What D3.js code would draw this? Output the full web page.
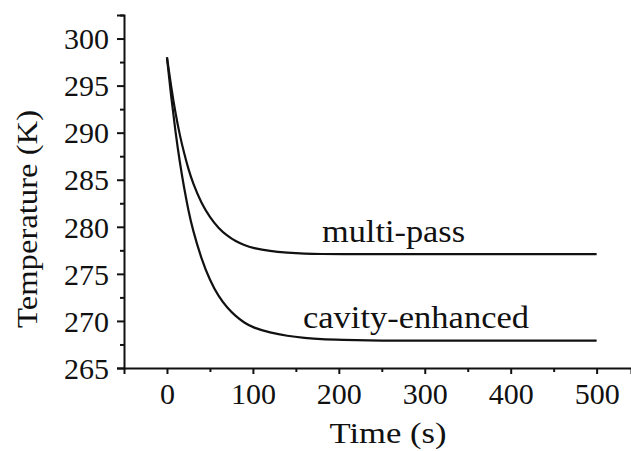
<!DOCTYPE html>
<html>
<head>
<meta charset="utf-8">
<script src="https://cdn.jsdelivr.net/npm/d3@7/dist/d3.min.js"></script>
<style>
  html, body { margin: 0; padding: 0; background: #fff; }
  svg { display: block; }
</style>
</head>
<body>
<svg id="chart" width="631" height="451" font-family="Liberation Serif, serif"></svg>
<script>
// ---- data ----
const times = [0, 5, 10, 15, 20, 25, 30, 40, 50, 60, 70, 80, 90, 100, 120, 140, 160, 180, 200, 250, 300, 400, 500];
const multiPass = [298, 294.8, 292.0, 289.7, 287.8, 286.1, 284.7, 282.5, 281.0, 279.85, 279.05, 278.45, 278.05, 277.75, 277.4, 277.25, 277.15, 277.1, 277.1, 277.1, 277.1, 277.1, 277.1];
const cavityEnhanced = [298, 293.7, 290.0, 286.8, 284.1, 281.7, 279.7, 276.6, 274.3, 272.6, 271.4, 270.5, 269.8, 269.3, 268.75, 268.4, 268.2, 268.05, 268.0, 267.9, 267.9, 267.9, 267.9];
const xTicks = [0, 100, 200, 300, 400, 500];
const xMinorTicks = [50, 150, 250, 350, 450];
const yTicks = [265, 270, 275, 280, 285, 290, 295, 300];
const yMinorTicks = [267.5, 272.5, 277.5, 282.5, 287.5, 292.5, 297.5, 302.5];
const seriesLabels = ["multi-pass", "cavity-enhanced"];
const xTitle = "Time (s)";
const yTitle = "Temperature (K)";

const FONT = "Liberation Serif, serif";
const svg = d3.select("#chart");
const x = d3.scaleLinear().domain([-50, 540]).range([124, 631]);
const y = d3.scaleLinear().domain([265, 302.5]).range([368, 15]);
const ink = "#111";

// axes
const xAxis = svg.append("g").attr("transform", `translate(0,${y(265)})`)
  .call(d3.axisBottom(x).tickValues(xTicks).tickSize(6).tickPadding(9).tickFormat(d3.format("d")));
const xMinor = svg.append("g").attr("transform", `translate(0,${y(265)})`)
  .call(d3.axisBottom(x).tickValues(xMinorTicks).tickSize(4).tickFormat(""));
const yAxis = svg.append("g").attr("transform", `translate(${x(-50)},0)`)
  .call(d3.axisLeft(y).tickValues(yTicks).tickSize(7).tickPadding(8).tickFormat(d3.format("d")));
const yMinor = svg.append("g").attr("transform", `translate(${x(-50)},0)`)
  .call(d3.axisLeft(y).tickValues(yMinorTicks).tickSize(4).tickFormat(""));

[xAxis, xMinor, yAxis, yMinor].forEach(g => {
  g.attr("font-family", FONT).attr("font-size", 30);
  g.select(".domain").attr("stroke", ink).attr("stroke-width", 2);
  g.selectAll(".tick line").attr("stroke", ink).attr("stroke-width", 2);
  g.selectAll(".tick text").attr("font-family", FONT).attr("font-size", 30).attr("fill", ink);
});
xMinor.select(".domain").remove();
yMinor.select(".domain").remove();
xAxis.selectAll(".tick text").attr("dy", "0.71em");
yAxis.selectAll(".tick text").attr("dy", "0.34em");

// lines
const line = d3.line().x(d => x(d[0])).y(d => y(d[1])).curve(d3.curveBasis);
[multiPass, cavityEnhanced].forEach(vals => {
  svg.append("path")
    .datum(times.map((t, i) => [t, vals[i]]))
    .attr("d", line)
    .attr("fill", "none")
    .attr("stroke", ink)
    .attr("stroke-width", 2.2);
});

// series labels
svg.append("text").attr("font-family", FONT).attr("fill", ink).attr("x", 322).attr("y", 242).attr("font-size", 31)
  .attr("textLength", 143).attr("lengthAdjust", "spacingAndGlyphs").text(seriesLabels[0]);
svg.append("text").attr("font-family", FONT).attr("fill", ink).attr("x", 303).attr("y", 328).attr("font-size", 31)
  .attr("textLength", 226).attr("lengthAdjust", "spacingAndGlyphs").text(seriesLabels[1]);

// axis titles
svg.append("text").attr("font-family", FONT).attr("fill", ink).attr("x", 388).attr("y", 443).attr("text-anchor", "middle").attr("font-size", 30)
  .attr("textLength", 117).attr("lengthAdjust", "spacingAndGlyphs").text(xTitle);
svg.append("text").attr("font-family", FONT).attr("fill", ink).attr("transform", "translate(37,219) rotate(-90)").attr("text-anchor", "middle").attr("font-size", 30)
  .attr("textLength", 218).attr("lengthAdjust", "spacingAndGlyphs").text(yTitle);
</script>
</body>
</html>
